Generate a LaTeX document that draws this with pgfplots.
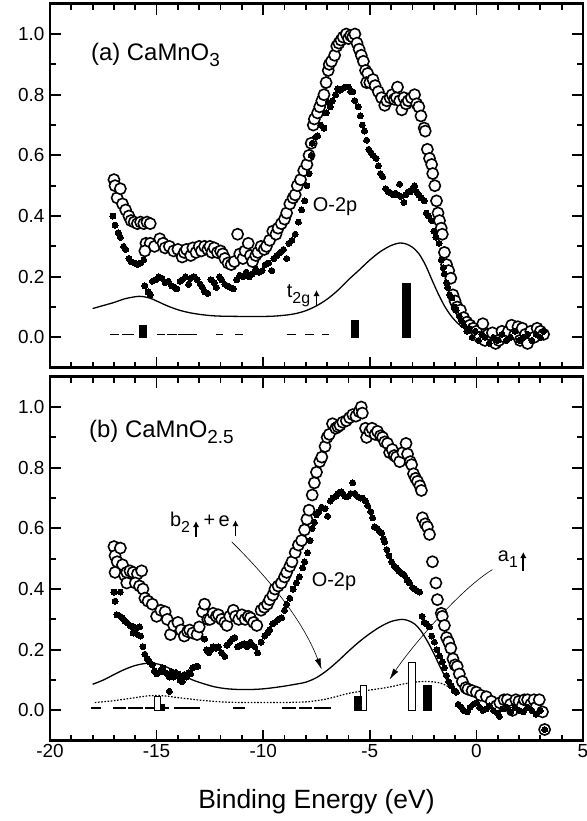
\documentclass[border=0pt]{standalone}
\usepackage{fontspec}
\setmainfont{Liberation Sans}
\usepackage{pgfplots}
\usepackage{pgfplotstable}
\pgfplotsset{compat=1.18}
\usetikzlibrary{arrows.meta}

% lowered subscript: [size]{text}
\newcommand\sub[2][16]{\raisebox{-6bp}{\fontsize{#1}{#1}\selectfont #2}}

% ---------- (a) CaMnO3 ----------
\pgfplotstableread{
x y
-17.0 0.52
-16.95 0.50
-16.85 0.46
-16.7 0.49
-16.6 0.44
-16.45 0.42
-16.3 0.40
-16.2 0.385
-16.05 0.38
-15.9 0.375
-15.75 0.38
-15.6 0.375
-15.45 0.38
-15.3 0.375
-15.5 0.31
-15.3 0.31
-15.55 0.285
-15.1 0.30
-14.85 0.325
-14.7 0.31
-14.6 0.295
-14.4 0.30
-14.2 0.285
-14.0 0.29
-13.8 0.265
-13.7 0.28
-13.6 0.29
-13.4 0.27
-13.3 0.295
-13.15 0.28
-13.0 0.30
-12.9 0.285
-12.75 0.30
-12.6 0.29
-12.5 0.30
-12.4 0.28
-12.3 0.295
-12.15 0.28
-12.0 0.285
-11.9 0.275
-11.8 0.26
-11.65 0.245
-11.5 0.24
-11.35 0.25
-11.2 0.34
-11.1 0.275
-10.95 0.26
-10.85 0.285
-10.7 0.31
-10.6 0.27
-10.5 0.25
-10.35 0.27
-10.25 0.28
-10.1 0.30
-9.95 0.29
-9.85 0.30
-9.7 0.32
-9.55 0.35
-9.4 0.34
-9.3 0.36
-9.15 0.375
-9.0 0.39
-8.9 0.41
-8.75 0.44
-8.6 0.46
-8.5 0.47
-8.4 0.50
-8.25 0.52
-8.1 0.55
-7.95 0.57
-7.85 0.60
-7.75 0.64
-7.65 0.70
-7.6 0.72
-7.45 0.74
-7.35 0.76
-7.25 0.78
-7.15 0.80
-7.05 0.84
-6.95 0.88
-6.9 0.90
-6.8 0.91
-6.65 0.93
-6.55 0.96
-6.45 0.97
-6.35 0.98
-6.25 0.99
-6.1 1.0
-6.0 0.985
-5.9 0.995
-5.8 0.99
-5.7 1.0
-5.6 0.97
-5.5 0.95
-5.4 0.93
-5.3 0.91
-5.2 0.88
-5.1 0.87
-5.15 0.84
-5.0 0.84
-4.85 0.85
-4.75 0.83
-4.6 0.81
-4.45 0.79
-4.3 0.765
-4.2 0.78
-4.05 0.79
-3.95 0.80
-3.85 0.785
-3.75 0.79
-3.7 0.825
-3.6 0.78
-3.5 0.75
-3.4 0.79
-3.3 0.77
-3.2 0.78
-3.05 0.79
-2.9 0.80
-2.8 0.77
-2.7 0.76
-2.6 0.73
-2.45 0.69
-2.4 0.68
-2.3 0.62
-2.2 0.59
-2.1 0.57
-2.05 0.54
-1.95 0.50
-1.87 0.45
-1.8 0.41
-1.73 0.385
-1.65 0.36
-1.6 0.34
-1.5 0.28
-1.4 0.24
-1.3 0.22
-1.2 0.195
-1.1 0.14
-1.0 0.12
-0.9 0.10
-0.75 0.09
-0.6 0.065
-0.45 0.05
-0.3 0.04
-0.15 0.03
0.0 0.02
0.15 0.0
0.3 0.045
0.4 -0.01
0.55 0.01
0.75 0.015
0.9 -0.02
1.05 -0.01
1.2 0.02
1.35 0.0
1.5 0.02
1.65 0.04
1.8 0.01
1.95 0.035
2.05 -0.01
2.15 0.03
2.3 0.01
2.4 -0.02
2.55 0.02
2.7 0.0
2.85 0.03
3.0 0.02
3.15 0.01
}\aopen

\pgfplotstableread{
x y
-17.05 0.40
-16.95 0.37
-16.8 0.345
-16.7 0.33
-16.55 0.30
-16.45 0.29
-16.3 0.26
-16.2 0.25
-16.05 0.245
-15.9 0.24
-15.75 0.245
-15.6 0.255
-15.55 0.17
-15.4 0.15
-15.3 0.14
-15.2 0.185
-15.05 0.19
-14.9 0.20
-14.75 0.195
-14.6 0.18
-14.45 0.185
-14.3 0.17
-14.15 0.165
-14.05 0.16
-13.9 0.185
-13.8 0.19
-13.65 0.20
-13.5 0.175
-13.4 0.195
-13.25 0.20
-13.1 0.19
-12.95 0.175
-12.85 0.165
-12.75 0.15
-12.6 0.145
-12.45 0.19
-12.3 0.18
-12.2 0.165
-12.05 0.20
-11.95 0.19
-11.8 0.175
-11.7 0.17
-11.55 0.165
-11.4 0.16
-11.25 0.19
-11.1 0.205
-10.95 0.20
-10.8 0.215
-10.65 0.20
-10.5 0.21
-10.35 0.225
-10.2 0.215
-10.05 0.22
-9.9 0.24
-9.75 0.245
-9.6 0.22
-9.5 0.26
-9.35 0.27
-9.2 0.28
-9.05 0.29
-8.9 0.26
-8.8 0.31
-8.65 0.32
-8.5 0.34
-8.35 0.38
-8.2 0.42
-8.05 0.45
-7.95 0.50
-7.85 0.54
-7.75 0.60
-7.7 0.64
-7.55 0.66
-7.45 0.665
-7.3 0.70
-7.15 0.69
-7.05 0.74
-6.95 0.775
-6.85 0.76
-6.75 0.78
-6.6 0.80
-6.5 0.82
-6.4 0.815
-6.3 0.82
-6.15 0.825
-6.0 0.825
-5.9 0.81
-5.8 0.81
-5.7 0.78
-5.55 0.76
-5.45 0.73
-5.35 0.70
-5.25 0.68
-5.15 0.65
-5.05 0.62
-4.95 0.61
-4.85 0.60
-4.7 0.59
-4.6 0.565
-4.5 0.54
-4.4 0.53
-4.25 0.49
-4.15 0.48
-4.0 0.475
-3.9 0.47
-3.8 0.475
-3.7 0.47
-3.6 0.505
-3.55 0.465
-3.4 0.445
-3.3 0.47
-3.2 0.48
-3.1 0.48
-3.0 0.49
-2.9 0.50
-2.8 0.48
-2.7 0.47
-2.6 0.46
-2.45 0.45
-2.35 0.41
-2.25 0.40
-2.1 0.385
-2.0 0.35
-1.9 0.33
-1.75 0.31
-1.65 0.255
-1.55 0.23
-1.5 0.21
-1.4 0.18
-1.35 0.165
-1.25 0.14
-1.15 0.13
-1.05 0.10
-0.95 0.09
-0.8 0.07
-0.7 0.055
-0.6 0.04
-0.45 0.02
-0.35 0.03
-0.2 0.0
-0.05 0.02
0.1 -0.01
0.25 0.01
0.4 0.0
0.6 -0.02
0.8 0.0
1.0 -0.01
1.2 0.01
1.4 -0.01
1.6 0.0
1.8 0.02
2.0 -0.01
2.2 0.0
2.4 0.01
2.6 -0.01
2.8 0.01
3.0 0.0
3.15 0.02
}\afill

\pgfplotstableread{
x y
-18.0 0.095
-17.5 0.105
-17.0 0.115
-16.5 0.127
-16.0 0.134
-15.7 0.135
-15.3 0.129
-15.0 0.12
-14.5 0.104
-14.0 0.091
-13.5 0.082
-13.0 0.076
-12.5 0.072
-12.0 0.070
-11.0 0.069
-10.0 0.069
-9.5 0.070
-9.0 0.073
-8.5 0.078
-8.0 0.088
-7.5 0.104
-7.0 0.126
-6.5 0.155
-6.0 0.19
-5.5 0.222
-5.0 0.255
-4.5 0.283
-4.0 0.303
-3.6 0.311
-3.3 0.308
-3.0 0.297
-2.7 0.276
-2.4 0.24
-2.1 0.192
-1.8 0.145
-1.5 0.104
-1.2 0.072
-0.9 0.048
-0.7 0.036
}\ados

% ---------- (b) CaMnO2.5 ----------
\pgfplotstableread{
x y
-17.0 0.54
-16.95 0.51
-16.85 0.49
-16.7 0.535
-16.6 0.48
-16.95 0.455
-16.5 0.445
-16.4 0.455
-16.25 0.46
-16.1 0.455
-15.9 0.45
-15.7 0.46
-16.4 0.42
-16.0 0.42
-15.8 0.41
-15.64 0.40
-15.55 0.37
-15.4 0.36
-15.2 0.35
-15.0 0.31
-14.8 0.33
-14.6 0.325
-14.5 0.30
-14.35 0.25
-14.2 0.28
-14.0 0.29
-13.85 0.265
-13.7 0.245
-13.55 0.26
-13.45 0.265
-13.3 0.255
-13.1 0.25
-13.0 0.275
-12.85 0.325
-12.75 0.35
-12.6 0.30
-12.5 0.30
-12.35 0.32
-12.2 0.31
-12.1 0.315
-11.95 0.30
-11.8 0.29
-11.7 0.28
-11.57 0.31
-11.4 0.33
-11.3 0.31
-11.15 0.30
-11.0 0.315
-10.85 0.30
-10.7 0.31
-10.6 0.305
-10.45 0.29
-10.3 0.28
-10.1 0.33
-9.95 0.34
-9.8 0.35
-9.7 0.365
-9.55 0.38
-9.45 0.40
-9.3 0.41
-9.15 0.42
-9.0 0.44
-8.9 0.455
-8.75 0.475
-8.65 0.49
-8.5 0.52
-8.35 0.545
-8.2 0.56
-8.06 0.595
-7.95 0.63
-7.85 0.66
-7.7 0.71
-7.6 0.75
-7.5 0.785
-7.35 0.82
-7.25 0.835
-7.1 0.87
-7.0 0.90
-6.9 0.91
-6.75 0.945
-6.6 0.93
-6.5 0.935
-6.4 0.94
-6.27 0.95
-6.1 0.955
-5.95 0.965
-5.8 0.975
-5.65 0.97
-5.5 0.985
-5.4 1.0
-5.35 0.98
-5.2 0.93
-5.15 0.90
-5.0 0.92
-4.9 0.93
-4.75 0.91
-4.64 0.92
-4.5 0.905
-4.4 0.90
-4.3 0.885
-4.17 0.88
-4.07 0.85
-3.95 0.86
-3.85 0.84
-3.75 0.835
-3.6 0.82
-3.45 0.85
-3.3 0.88
-3.23 0.845
-3.1 0.82
-3.04 0.81
-2.95 0.78
-2.85 0.765
-2.76 0.755
-2.65 0.74
-2.58 0.725
-2.53 0.635
-2.4 0.615
-2.3 0.605
-2.2 0.58
-2.06 0.49
-1.9 0.42
-1.83 0.365
-1.65 0.32
-1.6 0.31
-1.5 0.28
-1.4 0.24
-1.3 0.225
-1.2 0.205
-1.1 0.17
-1.0 0.15
-0.9 0.145
-0.8 0.12
-0.66 0.095
-0.5 0.075
-0.4 0.07
-0.2 0.065
0.0 0.06
0.2 0.05
0.47 0.045
0.7 0.03
0.94 0.015
1.1 0.025
1.3 0.035
1.45 0.035
1.6 0.02
1.69 0.0
1.85 0.035
2.0 0.03
2.15 0.015
2.25 0.035
2.4 0.035
2.55 0.02
2.7 0.035
2.8 0.01
2.95 0.035
3.1 -0.005
3.2 -0.063
}\bopen

\pgfplotstableread{
x y
-17.0 0.39
-16.7 0.39
-16.95 0.36
-16.86 0.315
-16.7 0.31
-16.6 0.305
-16.5 0.295
-16.4 0.29
-16.25 0.28
-16.1 0.275
-15.95 0.27
-15.8 0.275
-16.1 0.255
-15.9 0.25
-15.75 0.245
-15.64 0.21
-15.55 0.185
-15.45 0.17
-15.35 0.16
-15.2 0.15
-15.1 0.13
-15.0 0.12
-14.9 0.125
-14.8 0.13
-14.7 0.14
-14.6 0.125
-14.5 0.12
-14.4 0.11
-14.3 0.128
-14.2 0.11
-14.1 0.125
-14.0 0.12
-13.9 0.10
-13.8 0.095
-13.7 0.118
-13.6 0.11
-13.5 0.125
-13.4 0.12
-13.3 0.14
-13.15 0.145
-13.07 0.145
-14.4 0.063
-12.75 0.235
-12.65 0.20
-12.55 0.19
-12.45 0.20
-12.35 0.21
-12.2 0.205
-12.1 0.21
-11.95 0.19
-11.8 0.178
-11.7 0.215
-11.57 0.225
-11.45 0.235
-11.33 0.24
-11.2 0.21
-11.05 0.215
-10.9 0.22
-10.75 0.21
-10.6 0.225
-10.5 0.215
-10.4 0.21
-10.26 0.19
-10.1 0.225
-9.93 0.245
-9.8 0.255
-9.7 0.265
-9.55 0.285
-9.45 0.29
-9.3 0.30
-9.13 0.305
-9.0 0.33
-8.9 0.35
-8.75 0.37
-8.6 0.40
-8.45 0.42
-8.3 0.44
-8.15 0.47
-8.06 0.49
-7.92 0.52
-7.8 0.56
-7.7 0.60
-7.6 0.62
-7.5 0.645
-7.4 0.655
-7.26 0.67
-7.1 0.665
-6.98 0.64
-6.85 0.69
-6.74 0.70
-6.6 0.705
-6.5 0.715
-6.35 0.72
-6.27 0.715
-6.15 0.705
-6.04 0.705
-5.9 0.715
-5.8 0.75
-5.7 0.715
-5.57 0.705
-5.45 0.70
-5.34 0.70
-5.2 0.69
-5.1 0.675
-4.95 0.655
-4.87 0.635
-4.78 0.605
-4.65 0.60
-4.55 0.59
-4.45 0.585
-4.35 0.565
-4.3 0.555
-4.2 0.53
-4.1 0.51
-3.98 0.49
-3.85 0.475
-3.75 0.47
-3.65 0.46
-3.55 0.455
-3.45 0.45
-3.37 0.445
-3.25 0.43
-3.14 0.42
-3.0 0.405
-2.9 0.40
-2.8 0.395
-2.67 0.39
-2.55 0.31
-2.45 0.29
-2.35 0.285
-2.2 0.275
-2.1 0.245
-1.97 0.225
-1.85 0.20
-1.73 0.18
-1.6 0.16
-1.5 0.14
-1.4 0.115
-1.3 0.095
-1.17 0.08
-1.05 0.065
-0.94 0.06
-0.85 0.02
-0.7 0.01
-0.6 0.0
-0.42 -0.005
-0.3 0.01
-0.15 0.02
0.0 0.025
0.15 0.01
0.3 0.0
0.47 0.005
0.6 0.015
0.8 0.0
1.0 -0.01
1.08 -0.02
1.25 0.005
1.45 0.01
1.6 -0.005
1.8 0.01
2.0 0.0
2.2 -0.005
2.4 0.01
2.6 0.0
2.8 -0.013
3.0 0.0
3.2 -0.063
}\bfill

\pgfplotstableread{
x y
-18.0 0.086
-17.5 0.10
-17.0 0.118
-16.5 0.135
-16.0 0.148
-15.5 0.155
-15.1 0.155
-14.7 0.148
-14.3 0.135
-13.8 0.117
-13.3 0.10
-12.8 0.088
-12.3 0.078
-11.8 0.072
-11.2 0.069
-10.5 0.069
-10.0 0.071
-9.5 0.075
-9.0 0.08
-8.5 0.086
-8.0 0.093
-7.5 0.108
-7.0 0.132
-6.5 0.162
-6.0 0.195
-5.5 0.226
-5.0 0.253
-4.5 0.276
-4.0 0.293
-3.5 0.30
-3.2 0.296
-2.9 0.285
-2.6 0.262
-2.3 0.228
-2.0 0.188
-1.7 0.143
-1.4 0.102
-1.1 0.068
-0.9 0.052
}\bdos

\pgfplotstableread{
x y
-17.9 0.026
-17.0 0.032
-16.0 0.042
-15.5 0.047
-15.0 0.049
-14.5 0.047
-14.0 0.042
-13.5 0.038
-13.0 0.034
-12.0 0.028
-11.0 0.026
-10.0 0.026
-9.0 0.026
-8.0 0.028
-7.5 0.032
-7.0 0.038
-6.5 0.047
-6.0 0.056
-5.5 0.062
-5.0 0.067
-4.5 0.072
-4.0 0.078
-3.5 0.086
-3.0 0.092
-2.5 0.095
-2.0 0.094
-1.6 0.088
-1.3 0.078
-1.05 0.07
}\bdot

\pgfplotsset{
  panel/.style={
    width=533bp, height=364bp, scale only axis,
    xmin=-20, xmax=5, ymin=-0.1, ymax=1.1,
    xtick={-20,-15,-10,-5,0,5}, minor x tick num=4,
    ytick={0,0.2,0.4,0.6,0.8,1}, minor y tick num=1,
    yticklabels={0.0,0.2,0.4,0.6,0.8,1.0},
    tick align=inside,
    major tick length=11bp, minor tick length=6bp,
    every tick/.style={line width=1.8bp, black},
    axis line style={line width=2.5bp},
    tick label style={font=\fontsize{19}{19}\selectfont},
    yticklabel style={xshift=-2bp},
  },
  opencirc/.style={only marks, mark=*, mark size=5.6bp,
    mark options={fill=white, draw=black, line width=1.6bp}},
  dots/.style={only marks, mark=*, mark size=3bp,
    mark options={fill=black, draw=black, line width=0pt}},
  bars/.style={ybar, bar shift=0pt, draw=black, line width=1bp},
}
\tikzset{
  spin/.style={line width=1.8bp, -{Latex[length=6bp,width=6.5bp]}},
  pointer/.style={line width=0.6bp, -{Latex[length=11bp,width=6bp]}},
  lbl/.style={anchor=base west, inner sep=0pt, font=\fontsize{20}{20}\selectfont},
}

\begin{document}
\begin{tikzpicture}
\useasboundingbox (-50bp,3.7bp) rectangle (537bp,-817.3bp);

% panel (a)
\begin{axis}[panel, at={(0,0)}, anchor=north west, xticklabels={}]
  \addplot[opencirc] table {\aopen};
  \addplot[dots] table {\afill};
  \addplot[line width=1.3bp, smooth] table {\ados};
  \addplot[line width=1.6bp, unbounded coords=jump] coordinates {
    (-17.2,0.010) (-16.75,0.010) (-16.7,nan)
    (-16.6,0.010) (-16.05,0.010) (-16.0,nan)
    (-15.0,0.010) (-14.6,0.010) (-14.55,nan)
    (-14.5,0.010) (-14.05,0.010) (-14.02,nan)
    (-14.0,0.010) (-13.1,0.010) (-13.0,nan)
    (-12.2,0.010) (-11.9,0.010) (-11.8,nan)
    (-11.3,0.010) (-10.95,0.010) (-10.9,nan)
    (-8.9,0.010) (-8.45,0.010) (-8.4,nan)
    (-8.05,0.010) (-7.6,0.010) (-7.5,nan)
    (-7.25,0.010) (-6.9,0.010)};
  \addplot[bars, fill=black, bar width=0.35] coordinates {(-15.63,0.038)};
  \addplot[bars, fill=black, bar width=0.32] coordinates {(-5.69,0.055)};
  \addplot[bars, fill=black, bar width=0.37] coordinates {(-3.29,0.177)};
  \node[lbl, font=\fontsize{24}{24}\selectfont] at (axis cs:-18.08,0.914) {(a) CaMnO\sub[19]{3}};
  \node[lbl] at (axis cs:-7.68,0.415) {O-2p};
  \node[lbl] at (axis cs:-8.9,0.131) {t\sub{2g}};
  \draw[spin] (axis cs:-7.5,0.105) -- (axis cs:-7.5,0.156);
\end{axis}

% panel (b)
\begin{axis}[panel, at={(0,-373bp)}, anchor=north west,
  xticklabels={-20,-15,-10,-5,0,5},
  xlabel={Binding Energy (eV)},
  xlabel style={font=\fontsize{26.5}{26.5}\selectfont, at={(axis description cs:0.5,0)}, anchor=base, yshift=-68bp}]
  \addplot[opencirc] table {\bopen};
  \addplot[dots] table {\bfill};
  \addplot[line width=1.3bp, smooth] table {\bdos};
  \addplot[line width=1.2bp, dash pattern=on 1.6bp off 1.6bp, smooth] table {\bdot};
  \addplot[line width=2bp, unbounded coords=jump] coordinates {
    (-18.1,0.009) (-17.6,0.009) (-17.5,nan)
    (-17.05,0.009) (-16.45,0.009) (-16.42,nan)
    (-16.35,0.009) (-15.64,0.009) (-15.6,nan)
    (-15.55,0.009) (-14.4,0.009) (-14.3,nan)
    (-14.2,0.009) (-12.97,0.009) (-12.9,nan)
    (-11.4,0.009) (-10.87,0.009) (-10.8,nan)
    (-9.1,0.009) (-8.45,0.009) (-8.4,nan)
    (-8.3,0.009) (-7.7,0.009) (-7.65,nan)
    (-7.6,0.009) (-6.8,0.009)};
  \addplot[bars, fill=white, bar width=0.3] coordinates {(-14.95,0.045)};
  \addplot[bars, fill=black, bar width=0.15] coordinates {(-14.72,0.018)};
  \addplot[bars, fill=white, bar width=0.28] coordinates {(-5.29,0.082)};
  \addplot[bars, fill=black, bar width=0.3] coordinates {(-5.55,0.046)};
  \addplot[bars, fill=white, bar width=0.32] coordinates {(-3.02,0.158)};
  \addplot[bars, fill=black, bar width=0.38] coordinates {(-2.29,0.082)};
  \node[lbl, font=\fontsize{24}{24}\selectfont] at (axis cs:-18.17,0.899) {(b) CaMnO\sub[19]{2.5}};
  \node[lbl] at (axis cs:-7.73,0.408) {O-2p};
  \node[lbl] at (axis cs:-14.38,0.606) {b\sub{2}};
  \node[lbl] at (axis cs:-12.8,0.606) {+};
  \node[lbl] at (axis cs:-12.1,0.606) {e};
  \node[lbl] at (axis cs:1.0,0.49) {a\sub{1}};
  \draw[spin] (axis cs:-13.15,0.572) -- (axis cs:-13.15,0.624);
  \draw[spin] (axis cs:-11.3,0.575) -- (axis cs:-11.3,0.627);
  \draw[spin] (axis cs:2.2,0.458) -- (axis cs:2.2,0.522);
  \draw[pointer] (axis cs:-11.48,0.556) .. controls (axis cs:-9.46,0.415) and (axis cs:-8.06,0.283) .. (axis cs:-7.26,0.135);
  \draw[pointer] (axis cs:0.75,0.464) .. controls (axis cs:-0.8,0.398) and (axis cs:-3.14,0.201) .. (axis cs:-4.07,0.102);
\end{axis}
\end{tikzpicture}
\end{document}
